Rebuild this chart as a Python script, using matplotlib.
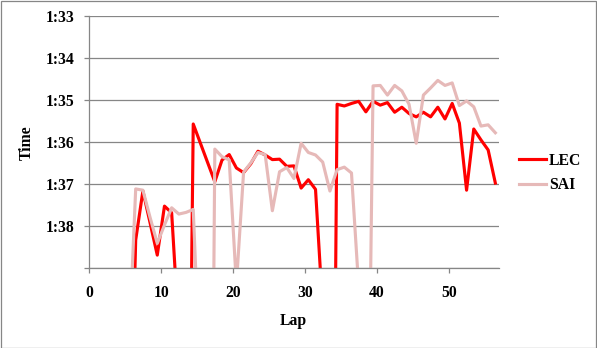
import numpy as np
import matplotlib
matplotlib.use('Agg')
import matplotlib.pyplot as plt
from matplotlib.patches import Rectangle

# lap numbers as placed on the x axis (points sit just right of the whole lap)
laps = [5.45, 6.45, 7.45, 8.45, 9.45, 10.45, 11.45, 12.45, 13.45, 14.45,
        15.45, 16.45, 17.45, 18.45, 19.45, 20.45, 21.45, 22.45, 23.45, 24.45,
        25.45, 26.45, 27.45, 28.45, 29.45, 30.45, 31.45, 32.45, 33.45, 34.45,
        35.45, 36.45, 37.45, 38.45, 39.45, 40.45, 41.45, 42.45, 43.45, 44.45,
        45.45, 46.45, 47.45, 48.45, 49.45, 50.45, 51.45, 52.45, 53.45, 54.45,
        55.45, 56.45]

# lap times in seconds (slow / pit laps run off the bottom of the chart)
lec = [105.0, 98.34, 97.17, 97.93, 98.70, 97.53, 97.69, 100.55, 111.0, 95.57,
       96.03, 96.49, 96.95, 96.43, 96.30, 96.62, 96.73, 96.52, 96.22, 96.31,
       96.42, 96.41, 96.58, 96.57, 97.10, 96.90, 97.13, 100.0, 115.0, 95.10,
       95.14, 95.08, 95.03, 95.28, 95.03, 95.12, 95.06, 95.29, 95.17, 95.32,
       95.40, 95.29, 95.40, 95.17, 95.45, 95.08, 95.55, 97.15, 95.69, 95.95,
       96.19, 96.98]
sai = [101.1, 97.12, 97.15, 97.80, 98.42, 97.98, 97.57, 97.72, 97.68, 97.61,
       101.8, 118.0, 96.17, 96.35, 96.43, 99.4, 96.72, 96.50, 96.25, 96.30,
       97.64, 96.71, 96.61, 96.87, 96.03, 96.25, 96.31, 96.48, 97.17, 96.66,
       96.60, 96.74, 99.46, 108.0, 94.66, 94.65, 94.88, 94.65, 94.78, 95.10,
       96.03, 94.88, 94.71, 94.53, 94.65, 94.59, 95.13, 95.02, 95.16, 95.62,
       95.59, 95.78]

y_ticks = [93, 94, 95, 96, 97, 98, 99]
y_labels = ['1:33', '1:34', '1:35', '1:36', '1:37', '1:38', '']
x_ticks = [0, 10, 20, 30, 40, 50]

grey = '#868686'
plt.rcParams['font.family'] = ['Liberation Serif', 'DejaVu Serif']
plt.rcParams['font.weight'] = 'bold'
fs = 11.3

fig = plt.figure(figsize=(5.97, 3.48), dpi=100)
ax = fig.add_axes([89.3 / 597, 1 - 267.7 / 348, 410 / 597, 251.4 / 348])

ax.plot(laps, lec, color='#FF0000', lw=2.25, label='LEC', solid_joinstyle='round')
ax.plot(laps, sai, color='#E6B9B8', lw=2.25, label='SAI', solid_joinstyle='round')

ax.set_xlim(0, 57)
ax.set_ylim(99, 93)  # faster laps at the top
ax.set_yticks(y_ticks)
ax.set_yticklabels(y_labels)
ax.set_xticks(x_ticks)

ax.grid(axis='y', color=grey, lw=0.9)
ax.set_axisbelow(True)
for s in ['top', 'right']:
    ax.spines[s].set_visible(False)
for s in ['left', 'bottom']:
    ax.spines[s].set_color(grey)
    ax.spines[s].set_linewidth(0.9)

ax.tick_params(axis='both', direction='out', length=3.8, width=0.9, color=grey,
               labelsize=fs)
ax.tick_params(axis='y', pad=7)
ax.tick_params(axis='x', pad=8.5)

fig.text(27 / 597, 1 - 143 / 348, 'Time', rotation=90, ha='center', va='center',
         fontsize=fs, fontweight='bold')
fig.text(293 / 597, 1 - 321 / 348, 'Lap', ha='center', va='center',
         fontsize=fs, fontweight='bold')

ax.legend(loc='center left', bbox_to_anchor=(1.049, 0.377), frameon=False,
          borderaxespad=0, borderpad=0, handlelength=1.72, handletextpad=0.15,
          labelspacing=0.55, prop={'size': fs, 'weight': 'bold'})

# outer chart border
fig.patches.append(Rectangle((0.5 / 597, 0.5 / 348), 595.5 / 597, 346.5 / 348,
                             transform=fig.transFigure, fill=False,
                             edgecolor=grey, lw=0.9))

plt.savefig('out.png', dpi=100)
